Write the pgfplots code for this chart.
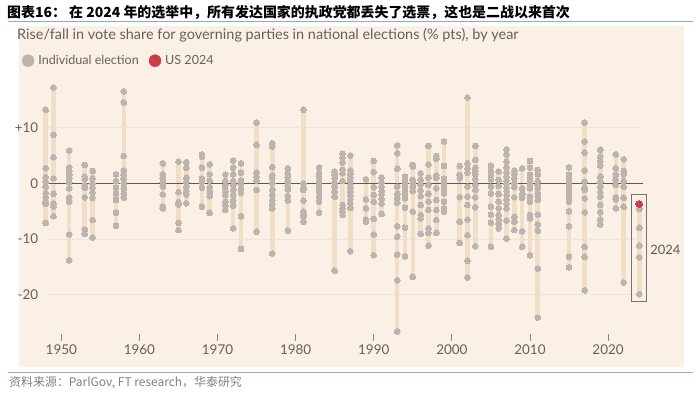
\documentclass[border=0pt]{standalone}
\usepackage{pgfplots}
\pgfplotsset{compat=1.18}
\usepackage{fontspec}
\setmainfont{Lato}
\newfontfamily\cjk{Noto Sans CJK SC}
\definecolor{bg}{HTML}{FBF0E6}
\definecolor{barcol}{HTML}{F1DEC6}
\definecolor{dotcol}{HTML}{BDB4AE}
\definecolor{usred}{HTML}{CE3C45}
\definecolor{zerocol}{HTML}{5E5854}
\definecolor{gridcol}{HTML}{EDE3D9}
\definecolor{subgray}{HTML}{66605C}
\definecolor{tickgray}{HTML}{8C8480}
\definecolor{blueline}{HTML}{8FA9D4}
\definecolor{srcgray}{HTML}{808080}
\begin{document}
\begin{tikzpicture}[x=1bp,y=1bp]
\useasboundingbox (0,0) rectangle (700,395);
\fill[bg] (19,28) rectangle (684,369);
\draw[blueline, line width=1.2bp] (8,373.3) -- (693,373.3);
\draw[blueline, line width=1.2bp] (8,22.7) -- (693,22.7);
\node[anchor=west, inner sep=0, font=\cjk\bfseries\fontsize{14}{16}\selectfont] at (7,382) {图表16：\ 在 2024 年的选举中，所有发达国家的执政党都丢失了选票，这也是二战以来首次};
\node[anchor=west, inner sep=0, text=subgray, font=\fontsize{14.5}{16}\selectfont] at (17,360) {Rise/fall in vote share for governing parties in national elections (\% pts), by year};
\node[anchor=west, inner sep=0, text=srcgray, font=\cjk\fontsize{12}{14}\selectfont] at (9,12) {资料来源：ParlGov, FT research，华泰研究};
\begin{axis}[
  at={(41.8bp,61.3bp)}, anchor=south west, scale only axis,
  width=601.4bp, height=254bp,
  xmin=1947.5, xmax=2024.5, ymin=-27, ymax=18.6,
  clip=false,
  axis x line*=bottom, axis y line*=left,
  axis line style={draw=none},
  xtick={1950,1960,1970,1980,1990,2000,2010,2020},
  xticklabels={1950,1960,1970,1980,1990,2000,2010,2020},
  ytick={-20,-10,0,10},
  yticklabels={-20,-10,0,+10},
  tick align=outside,
  major tick length=7.5bp,
  xtick style={draw=tickgray, line width=0.8bp},
  ytick style={draw=none},
  tick label style={font=\fontsize{13.5}{15}\selectfont, text=subgray},
  yticklabel style={xshift=7.5bp},
  /pgf/number format/assume math mode=true,
  legend style={at={(axis description cs:-0.0333,1.0748)}, anchor=west, draw=none, fill=none, inner sep=0pt,
    font=\fontsize{12.6}{14}\selectfont, text=subgray,
    /tikz/every even column/.append style={column sep=8bp}},
  legend columns=-1,
  legend image code/.code={\fill[#1] (6bp,0bp) circle (6bp); \path (14bp,0bp);},
]
\addlegendimage{dotcol}
\addlegendentry{Individual election}
\addlegendimage{usred}
\addlegendentry{US 2024}

\draw[gridcol, line width=0.9bp] (axis cs:1948.1,10) -- (axis cs:2024.4,10);
\draw[gridcol, line width=0.9bp] (axis cs:1948.1,-10) -- (axis cs:2024.4,-10);
\draw[gridcol, line width=0.9bp] (axis cs:1948.1,-20) -- (axis cs:2024.4,-20);

\addplot[forget plot, barcol, line width=4.6bp, unbounded coords=jump] coordinates {
(1948,13.2) (1948,-7.1) (1948,nan)
(1949,17.2) (1949,-5.9) (1949,nan)
(1951,5.9) (1951,-13.8) (1951,nan)
(1953,3.3) (1953,-9.1) (1953,nan)
(1954,2.2) (1954,-9.7) (1954,nan)
(1957,1.6) (1957,-7.6) (1957,nan)
(1958,16.5) (1958,-2.6) (1958,nan)
(1963,3.6) (1963,-4.5) (1963,nan)
(1965,3.9) (1965,-8.4) (1965,nan)
(1966,3.8) (1966,-3.6) (1966,nan)
(1968,5.2) (1968,-4.2) (1968,nan)
(1969,3.4) (1969,-5.3) (1969,nan)
(1971,1.6) (1971,-4.8) (1971,nan)
(1972,4.1) (1972,-8.1) (1972,nan)
(1973,3.6) (1973,-11.8) (1973,nan)
(1975,10.9) (1975,-8.7) (1975,nan)
(1977,7.2) (1977,-12.6) (1977,nan)
(1979,2.7) (1979,-8.5) (1979,nan)
(1981,13.2) (1981,-6.9) (1981,nan)
(1983,2.8) (1983,-5.3) (1983,nan)
(1985,2.1) (1985,-15.7) (1985,nan)
(1986,5.3) (1986,-5.7) (1986,nan)
(1987,5.0) (1987,-12.2) (1987,nan)
(1989,0.7) (1989,-6.9) (1989,nan)
(1990,4.0) (1990,-12.9) (1990,nan)
(1991,1.0) (1991,-5.5) (1991,nan)
(1993,6.8) (1993,-26.6) (1993,nan)
(1994,1.2) (1994,-13.1) (1994,nan)
(1995,3.3) (1995,-16.8) (1995,nan)
(1996,1.8) (1996,-9.1) (1996,nan)
(1997,6.7) (1997,-11.2) (1997,nan)
(1998,4.9) (1998,-8.9) (1998,nan)
(1999,7.5) (1999,-5.1) (1999,nan)
(2001,3.1) (2001,-10.7) (2001,nan)
(2002,15.4) (2002,-16.9) (2002,nan)
(2003,6.7) (2003,-11.3) (2003,nan)
(2005,3.2) (2005,-11.4) (2005,nan)
(2006,2.1) (2006,-8.1) (2006,nan)
(2007,6.1) (2007,-9.9) (2007,nan)
(2008,2.3) (2008,-8.4) (2008,nan)
(2009,2.7) (2009,-11.4) (2009,nan)
(2010,4.0) (2010,-12.9) (2010,nan)
(2011,2.4) (2011,-24.1) (2011,nan)
(2015,2.9) (2015,-15.1) (2015,nan)
(2017,10.9) (2017,-19.2) (2017,nan)
(2019,6.0) (2019,-7.4) (2019,nan)
(2021,5.2) (2021,-4.5) (2021,nan)
(2022,4.3) (2022,-17.8) (2022,nan)
(2024,-3.7) (2024,-19.9)
};

\draw[zerocol, line width=1.4bp] (axis cs:1948,0) -- (axis cs:2024.44,0);

\addplot[forget plot, only marks, dotcol, mark=*, mark size=2.9bp, mark options={draw=dotcol, fill=dotcol, line width=0pt}] table {
x y
1948 13.2
1948 2.7
1948 1.1
1948 0.3
1948 -0.6
1948 -1.8
1948 -2.5
1948 -3.3
1948 -3.7
1948 -7.1
1949 17.2
1949 8.7
1949 4.7
1949 0.9
1949 -1.9
1949 -3.6
1949 -4.2
1949 -5.9
1951 5.9
1951 2.8
1951 2.1
1951 1.5
1951 0.9
1951 0.2
1951 -0.9
1951 -2.6
1951 -3.3
1951 -9.2
1951 -13.8
1953 3.3
1953 1.2
1953 0.7
1953 -0.4
1953 -0.8
1953 -2.5
1953 -8.3
1953 -9.1
1954 2.2
1954 0.9
1954 0
1954 -0.8
1954 -1.6
1954 -2.6
1954 -6.6
1954 -9.7
1957 1.6
1957 0.4
1957 -0.8
1957 -1.9
1957 -3.0
1957 -5.3
1957 -7.6
1958 16.5
1958 14.5
1958 4.9
1958 2.3
1958 1.5
1958 0.8
1958 0
1958 -0.9
1958 -1.8
1958 -2.6
1963 3.6
1963 1.6
1963 0.9
1963 0.2
1963 -0.6
1963 -2.0
1963 -4.2
1963 -4.5
1965 3.9
1965 -1.6
1965 -3.4
1965 -3.8
1965 -7.1
1965 -8.4
1966 3.8
1966 2.8
1966 1.0
1966 0.2
1966 -0.6
1966 -1.4
1966 -2.0
1966 -3.6
1968 5.2
1968 4.8
1968 2.8
1968 0.8
1968 0.3
1968 -0.8
1968 -4.2
1969 3.4
1969 1.6
1969 0.5
1969 -0.7
1969 -1.3
1969 -1.8
1969 -2.3
1969 -5.3
1971 1.6
1971 0.4
1971 -0.3
1971 -0.9
1971 -1.5
1971 -2.1
1971 -3.3
1971 -4.0
1971 -4.8
1972 4.1
1972 2.8
1972 1.6
1972 0.4
1972 -0.3
1972 -1.2
1972 -2.1
1972 -3.1
1972 -4.0
1972 -8.1
1973 3.6
1973 1.9
1973 0.5
1973 -0.1
1973 -1.2
1973 -1.7
1973 -5.9
1973 -11.8
1975 10.9
1975 6.9
1975 1.9
1975 1.2
1975 0.5
1975 -1.2
1975 -8.7
1977 7.2
1977 6.6
1977 2.9
1977 1.4
1977 0.9
1977 0
1977 -1.2
1977 -2.1
1977 -3.0
1977 -3.8
1977 -4.5
1977 -12.6
1979 2.7
1979 1.7
1979 1.1
1979 0.3
1979 -0.5
1979 -1.1
1979 -2.3
1979 -3.1
1979 -8.5
1981 13.2
1981 0
1981 -0.7
1981 -1.2
1981 -3.1
1981 -5.1
1981 -5.6
1981 -6.0
1981 -6.9
1983 2.8
1983 1.8
1983 1.2
1983 0.4
1983 -0.2
1983 -0.9
1983 -1.5
1983 -2.4
1983 -3.3
1983 -5.3
1985 2.1
1985 1.5
1985 0.9
1985 0.1
1985 -0.6
1985 -1.5
1985 -2.4
1985 -15.7
1986 5.3
1986 4.6
1986 3.7
1986 2.4
1986 1.8
1986 0.4
1986 -3.9
1986 -4.5
1986 -5.1
1986 -5.7
1987 5.0
1987 2.3
1987 1.7
1987 1.0
1987 0.4
1987 -0.2
1987 -0.8
1987 -1.5
1987 -2.2
1987 -2.9
1987 -3.6
1987 -4.4
1987 -12.2
1989 0.7
1989 -2.9
1989 -4.5
1989 -6.5
1989 -6.9
1990 4.0
1990 2.0
1990 -0.7
1990 -2.1
1990 -3.3
1990 -6.4
1990 -9.2
1990 -12.9
1991 1.0
1991 0.1
1991 -0.6
1991 -1.4
1991 -2.0
1991 -2.8
1991 -3.6
1991 -5.5
1993 6.8
1993 5.4
1993 2.6
1993 -0.6
1993 -1.9
1993 -2.7
1993 -3.5
1993 -7.7
1993 -9.6
1993 -12.8
1993 -17.4
1993 -26.6
1994 1.2
1994 0.6
1994 -0.2
1994 -1.0
1994 -1.8
1994 -2.7
1994 -4.4
1994 -8.0
1994 -13.1
1995 3.3
1995 3.0
1995 0.6
1995 0
1995 -0.7
1995 -1.4
1995 -5.1
1995 -16.8
1996 1.8
1996 0.6
1996 -0.2
1996 -1.3
1996 -2.3
1996 -3.9
1996 -5.7
1996 -6.3
1996 -9.1
1997 6.7
1997 3.4
1997 1.0
1997 -0.3
1997 -1.9
1997 -3.3
1997 -4.8
1997 -8.1
1997 -8.9
1997 -11.2
1998 4.9
1998 4.4
1998 1.4
1998 1.0
1998 -0.9
1998 -3.0
1998 -4.8
1998 -6.6
1998 -8.9
1999 7.5
1999 3.1
1999 0.8
1999 0.3
1999 -0.3
1999 -1.2
1999 -1.8
1999 -3.3
1999 -4.5
1999 -5.1
2001 3.1
2001 1.5
2001 0.9
2001 -2.5
2001 -6.9
2001 -10.7
2002 15.4
2002 3.6
2002 2.7
2002 1.9
2002 -0.6
2002 -2.4
2002 -3.9
2002 -6.5
2002 -9.3
2002 -13.9
2002 -16.9
2003 6.7
2003 4.2
2003 2.8
2003 2.2
2003 1.6
2003 0.7
2003 -0.3
2003 -1.2
2003 -2.5
2003 -4.3
2003 -11.3
2005 3.2
2005 2.2
2005 1.5
2005 0.7
2005 -0.6
2005 -1.8
2005 -4.2
2005 -5.6
2005 -7.1
2005 -11.4
2006 2.1
2006 0.6
2006 -0.5
2006 -1.9
2006 -3.3
2006 -4.5
2006 -5.7
2006 -6.5
2006 -7.3
2006 -8.1
2007 6.1
2007 5.2
2007 3.9
2007 2.9
2007 2.0
2007 1.2
2007 0.5
2007 -0.1
2007 -0.7
2007 -1.4
2007 -2.1
2007 -2.9
2007 -3.7
2007 -4.5
2007 -6.7
2007 -9.9
2008 2.3
2008 1.7
2008 0.9
2008 0
2008 -0.7
2008 -2.5
2008 -6.0
2008 -6.9
2008 -8.4
2009 2.7
2009 -0.9
2009 -1.9
2009 -2.6
2009 -8.6
2009 -11.4
2010 4.0
2010 2.8
2010 1.5
2010 0.6
2010 -0.3
2010 -0.9
2010 -2.4
2010 -3.3
2010 -5.7
2010 -6.3
2010 -12.9
2011 2.4
2011 1.6
2011 0.4
2011 -0.3
2011 -0.9
2011 -1.8
2011 -2.4
2011 -3.0
2011 -5.6
2011 -7.4
2011 -8.5
2011 -15.3
2011 -24.1
2015 2.9
2015 1.5
2015 0.9
2015 0.3
2015 -0.4
2015 -1.1
2015 -1.7
2015 -2.5
2015 -3.3
2015 -5.0
2015 -7.7
2015 -13.2
2015 -15.1
2017 10.9
2017 7.5
2017 5.5
2017 2.3
2017 0.3
2017 -0.8
2017 -1.2
2017 -2.7
2017 -5.2
2017 -11.4
2017 -13.2
2017 -19.2
2019 6.0
2019 4.8
2019 4.0
2019 3.2
2019 1.2
2019 0.3
2019 -0.6
2019 -1.6
2019 -2.4
2019 -3.9
2019 -5.2
2019 -6.5
2019 -7.4
2021 5.2
2021 2.7
2021 1.6
2021 0.6
2021 -0.3
2021 -2.5
2021 -2.9
2021 -4.5
2022 4.3
2022 2.2
2022 1.6
2022 0.4
2022 -0.6
2022 -2.6
2022 -4.2
2022 -17.8
2024 -4.6
2024 -8.0
2024 -11.2
2024 -13.3
2024 -19.9
};

\addplot[forget plot, only marks, usred, mark=*, mark size=3.4bp, mark options={draw=usred, fill=usred, line width=0pt}] coordinates {(2024,-3.7)};

\draw[zerocol!85, line width=1bp] (axis cs:2023.03,-1.97) rectangle (axis cs:2024.86,-21.13);
\node[anchor=west, inner sep=0, text=zerocol, font=\fontsize{13}{15}\selectfont] at (axis cs:2025.4,-12) {2024};
\end{axis}
\end{tikzpicture}
\end{document}
